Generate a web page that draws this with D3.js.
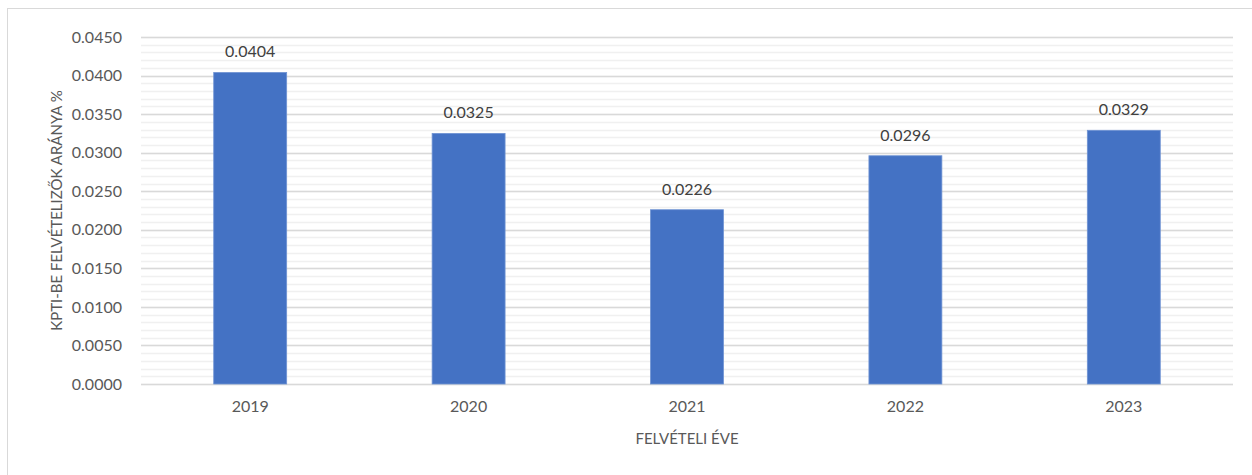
<!DOCTYPE html>
<html>
<head>
<meta charset="utf-8">
<script src="https://cdn.jsdelivr.net/npm/d3@7"></script>
<style>
  body { margin: 0; background: #fff; }
  text { font-family: Lato, "Open Sans", sans-serif; }
</style>
</head>
<body>
<div id="chart"></div>
<script>
// data
const years = ["2019", "2020", "2021", "2022", "2023"];
const ratios = [0.0404, 0.0325, 0.0226, 0.0296, 0.0329];
const yTicks = [0, 0.005, 0.01, 0.015, 0.02, 0.025, 0.03, 0.035, 0.04, 0.045];
const minorTicks = d3.range(0, 46).map(function (i) { return i / 1000; });

const W = 1252, H = 475;
let margin = { top: 37, right: 19, bottom: 91, left: 141 },
  width = W - margin.left - margin.right,
  height = H - margin.top - margin.bottom;

let svg = d3.select("#chart").append("svg")
  .attr("width", W)
  .attr("height", H);

// outer chart frame (runs off the right and bottom edge)
svg.append("rect")
  .attr("x", 7.5).attr("y", 8.5)
  .attr("width", W).attr("height", H)
  .attr("fill", "none")
  .attr("stroke", "#d9d9d9");

let chart = svg.append("g")
  .attr("transform", "translate(" + margin.left + "," + margin.top + ")");

let x = d3.scaleBand().domain(years).range([0, width]).paddingInner(0.666).paddingOuter(0.333);
let y = d3.scaleLinear().domain([0, 0.045]).range([height, 0]);

// minor gridlines
chart.selectAll(".minor")
  .data(minorTicks)
  .enter().append("line")
  .attr("x1", 0).attr("x2", width)
  .attr("y1", function (d) { return Math.round(y(d)) + 0.5; })
  .attr("y2", function (d) { return Math.round(y(d)) + 0.5; })
  .attr("stroke", "#f0f0f0")
  .attr("stroke-width", 1.5);

// major gridlines
chart.selectAll(".major")
  .data(yTicks)
  .enter().append("line")
  .attr("x1", 0).attr("x2", width)
  .attr("y1", function (d) { return Math.round(y(d)) + 0.5; })
  .attr("y2", function (d) { return Math.round(y(d)) + 0.5; })
  .attr("stroke", "#d9d9d9")
  .attr("stroke-width", 1.5);

// y axis labels
let yAxis = chart.append("g")
  .call(d3.axisLeft(y).tickValues(yTicks).tickFormat(d3.format(".4f")).tickSize(0).tickPadding(19));
yAxis.select(".domain").remove();
yAxis.selectAll("text")
  .attr("fill", "#595959")
  .style("font-size", "16px");

// x axis labels
let xAxis = chart.append("g")
  .attr("transform", "translate(0," + height + ")")
  .call(d3.axisBottom(x).tickSize(0).tickPadding(17));
xAxis.select(".domain").remove();
xAxis.selectAll("text")
  .attr("fill", "#595959")
  .style("font-size", "16px");

// bars
chart.selectAll(".bar")
  .data(ratios)
  .enter().append("rect")
  .attr("class", "bar")
  .attr("x", function (d, i) { return x(years[i]); })
  .attr("y", function (d) { return y(d); })
  .attr("width", x.bandwidth())
  .attr("height", function (d) { return height - y(d); })
  .attr("fill", "#4472c4")
  .attr("stroke", "#6f93d3")
  .attr("stroke-width", 0.8);

// value labels
chart.selectAll(".val")
  .data(ratios)
  .enter().append("text")
  .attr("x", function (d, i) { return x(years[i]) + x.bandwidth() / 2; })
  .attr("y", function (d) { return y(d) - 15; })
  .attr("text-anchor", "middle")
  .attr("fill", "#404040")
  .style("font-size", "16px")
  .text(function (d) { return d.toFixed(4); });

// axis titles
svg.append("text")
  .attr("x", margin.left + width / 2)
  .attr("y", 444)
  .attr("text-anchor", "middle")
  .attr("fill", "#595959")
  .style("font-size", "15px")
  .text("FELVÉTELI ÉVE");

svg.append("text")
  .attr("transform", "translate(62," + (margin.top + height / 2) + ") rotate(-90)")
  .attr("text-anchor", "middle")
  .attr("fill", "#595959")
  .style("font-size", "15px")
  .text("KPTI-BE FELVÉTELIZŐK ARÁNYA %");
</script>
</body>
</html>
